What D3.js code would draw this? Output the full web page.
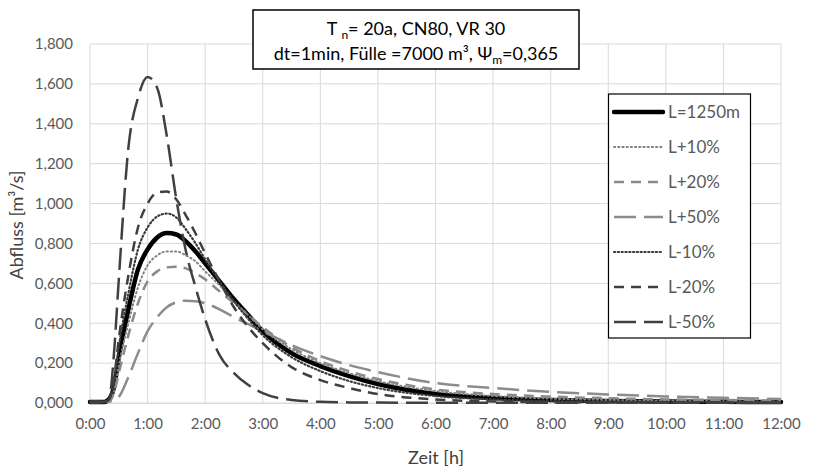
<!DOCTYPE html>
<html>
<head>
<meta charset="utf-8">
<script src="https://cdn.jsdelivr.net/npm/d3@7"></script>
<style>
  html, body { margin: 0; padding: 0; background: #fff; }
  svg { display: block; }
  text { font-family: Lato, "Open Sans", sans-serif; }
</style>
</head>
<body>
<svg id="chart" width="822" height="475"></svg>
<script>
// ---- data (time in minutes, discharge in m³/s) ----
const timeMin = [0,15,20,25,30,40,50,60,70,80,90,100,110,120,135,150,165,180,210,240,270,300,360,420,480,540,600,660,720];

const seriesNames = ["L=1250m","L+10%","L+20%","L+50%","L-10%","L-20%","L-50%"];

const qBase  = [0.005,0.005,0.02,0.08,0.23,0.47,0.67,0.77,0.83,0.852,0.845,0.81,0.76,0.70,0.61,0.52,0.44,0.36,0.25,0.185,0.135,0.095,0.045,0.025,0.015,0.010,0.008,0.006,0.005];
const qP10   = [0.005,0.005,0.015,0.06,0.19,0.40,0.58,0.69,0.74,0.76,0.76,0.74,0.71,0.66,0.59,0.51,0.44,0.37,0.27,0.20,0.15,0.11,0.06,0.035,0.022,0.015,0.011,0.009,0.007];
const qP20   = [0.005,0.005,0.01,0.05,0.15,0.34,0.50,0.61,0.66,0.68,0.683,0.675,0.65,0.62,0.56,0.50,0.44,0.38,0.28,0.21,0.16,0.12,0.068,0.045,0.032,0.024,0.018,0.015,0.012];
const qP50   = [0.005,0.005,0.007,0.015,0.03,0.13,0.25,0.36,0.43,0.48,0.505,0.513,0.51,0.50,0.47,0.43,0.395,0.36,0.29,0.235,0.19,0.155,0.10,0.075,0.056,0.043,0.033,0.026,0.02];
const qM10   = [0.005,0.005,0.02,0.10,0.28,0.55,0.77,0.88,0.935,0.95,0.93,0.87,0.80,0.72,0.61,0.51,0.42,0.34,0.23,0.16,0.11,0.075,0.035,0.018,0.010,0.007,0.005,0.004,0.003];
const qM20   = [0.005,0.005,0.02,0.12,0.32,0.64,0.88,1.00,1.055,1.06,1.02,0.94,0.85,0.75,0.61,0.48,0.38,0.30,0.18,0.115,0.075,0.045,0.018,0.008,0.004,0.003,0.002,0.002,0.001];
const qM50   = [0.005,0.005,0.02,0.25,0.62,1.28,1.53,1.635,1.58,1.34,1.02,0.76,0.58,0.42,0.24,0.15,0.09,0.05,0.015,0.006,0.003,0.002,0.001,0.001,0.001,0.001,0.001,0.001,0.001];

const xTickLabels = ["0:00","1:00","2:00","3:00","4:00","5:00","6:00","7:00","8:00","9:00","10:00","11:00","12:00"];
const yTickValues = [0,0.2,0.4,0.6,0.8,1.0,1.2,1.4,1.6,1.8];

// ---- styles ----
const seriesValues = [qBase,qP10,qP20,qP50,qM10,qM20,qM50];
const styles = [
  {color:"#000000", width:4.5, dash:null, cap:"round"},
  {color:"#808080", width:2, dash:"1.2 3", cap:"round"},
  {color:"#8a8a8a", width:2.5, dash:"10 7", cap:"butt"},
  {color:"#8c8c8c", width:2.5, dash:"22 8", cap:"butt"},
  {color:"#3a3a3a", width:2.2, dash:"1.2 2.6", cap:"round"},
  {color:"#3f3f3f", width:2.5, dash:"10 7", cap:"butt"},
  {color:"#404040", width:2.5, dash:"22 8", cap:"butt"}
];

const svg = d3.select("#chart");
const pLeft = 90, pRight = 781, pTop = 44, pBottom = 403;

const x = d3.scaleLinear().domain([0, 720]).range([pLeft, pRight]);
const y = d3.scaleLinear().domain([0, 1.8]).range([pBottom, pTop]);

// gridlines
const g = svg.append("g");
g.selectAll("line.hg").data(yTickValues).join("line")
  .attr("x1", pLeft).attr("x2", pRight)
  .attr("y1", d => y(d)).attr("y2", d => y(d))
  .attr("stroke", "#d9d9d9").attr("stroke-width", 1);
g.selectAll("line.vg").data(xTickLabels).join("line")
  .attr("x1", (d,i) => x(i*60)).attr("x2", (d,i) => x(i*60))
  .attr("y1", pTop).attr("y2", pBottom)
  .attr("stroke", "#d9d9d9").attr("stroke-width", 1);

// axes
const yAxis = d3.axisLeft(y).tickValues(yTickValues)
  .tickFormat(d => d3.format(".3f")(d).replace(".", ","))
  .tickSize(0).tickPadding(17);
const ya = svg.append("g").attr("transform", `translate(${pLeft},0)`).call(yAxis);
ya.select(".domain").remove();
ya.selectAll("text").attr("font-size", 15).attr("fill", "#595959").attr("font-family", "Lato, sans-serif");

const xAxis = d3.axisBottom(x).tickValues(xTickLabels.map((d,i) => i*60))
  .tickFormat((d,i) => xTickLabels[i]).tickSize(0).tickPadding(15);
const xa = svg.append("g").attr("transform", `translate(0,${pBottom})`).call(xAxis);
xa.select(".domain").attr("stroke", "#d9d9d9");
xa.selectAll("text").attr("font-size", 15).attr("fill", "#595959").attr("font-family", "Lato, sans-serif");

// lines
const line = d3.line().x((d,i) => x(timeMin[i])).y(d => y(d)).curve(d3.curveMonotoneX);
seriesValues.forEach((vals, k) => {
  const s = styles[k];
  svg.append("path").datum(vals)
    .attr("d", line)
    .attr("fill", "none")
    .attr("stroke", s.color)
    .attr("stroke-width", s.width)
    .attr("stroke-dasharray", s.dash)
    .attr("stroke-linecap", s.cap)
    .attr("stroke-linejoin", "round");
});

// axis titles
svg.append("text").attr("x", 436).attr("y", 464).attr("text-anchor", "middle")
  .attr("font-size", 18).attr("fill", "#404040").text("Zeit [h]");
svg.append("text").attr("transform", "translate(23,225) rotate(-90)").attr("text-anchor", "middle")
  .attr("font-size", 18).attr("fill", "#404040").text("Abfluss [m³/s]");

// title box
svg.append("rect").attr("x", 253).attr("y", 10).attr("width", 326).attr("height", 59)
  .attr("fill", "#fff").attr("stroke", "#000").attr("stroke-width", 1.5);
const t1 = svg.append("text").attr("x", 416).attr("y", 35).attr("text-anchor", "middle")
  .attr("font-size", 18).attr("fill", "#000");
t1.append("tspan").text("T ");
t1.append("tspan").attr("font-size", 12).attr("dy", 4).text("n");
t1.append("tspan").attr("dy", -4).text("= 20a, CN80, VR 30");
const t2 = svg.append("text").attr("x", 416).attr("y", 60).attr("text-anchor", "middle")
  .attr("font-size", 18).attr("fill", "#000");
t2.append("tspan").text("dt=1min, Fülle =7000 m³, Ψ");
t2.append("tspan").attr("font-size", 12).attr("dy", 4).text("m");
t2.append("tspan").attr("dy", -4).text("=0,365");

// legend
svg.append("rect").attr("x", 608.5).attr("y", 94).attr("width", 142).attr("height", 244)
  .attr("fill", "#fff").attr("stroke", "#000").attr("stroke-width", 1.2);
seriesNames.forEach((name, k) => {
  const s = styles[k];
  const ly = 112 + k*35;
  svg.append("line").attr("x1", 614).attr("x2", 663).attr("y1", ly).attr("y2", ly)
    .attr("stroke", s.color).attr("stroke-width", s.width)
    .attr("stroke-dasharray", s.dash).attr("stroke-linecap", s.cap);
  svg.append("text").attr("x", 668).attr("y", ly + 6).attr("font-size", 17)
    .attr("fill", "#595959").text(name);
});
</script>
</body>
</html>
